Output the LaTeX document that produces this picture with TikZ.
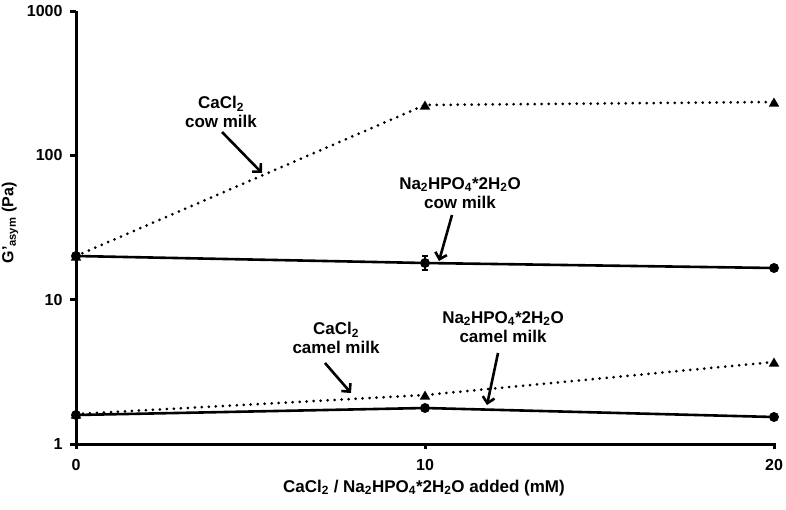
\documentclass[tikz,border=0pt]{standalone}
\usepackage{fontspec}
\setmainfont{Liberation Sans}
\usetikzlibrary{arrows.meta,shapes.geometric}
\newcommand\sbx[1]{\textsubscript{#1}}
\begin{document}
\begin{tikzpicture}[x=1pt,y=-1pt,
  axisline/.style={line width=3pt},
  solidline/.style={line width=2.6pt},
  dotline/.style={line width=3pt, line cap=round, dash pattern=on 0pt off 7pt},
  ptc/.style={circle, fill=black, inner sep=0pt, minimum size=10pt},
  ptt/.style={regular polygon, regular polygon sides=3, fill=black, inner sep=0pt, minimum size=12pt},
  ticklab/.style={font=\bfseries\fontsize{16}{18}\selectfont},
  titlelab/.style={font=\bfseries\fontsize{17}{19}\selectfont},
  lab/.style={font=\bfseries\fontsize{17}{19}\selectfont, align=center},
  arr/.style={line width=2.6pt, -{Straight Barb[length=6pt,width=12pt]}}]
\useasboundingbox (0,0) rectangle (786,509);
% axes
\coordinate (ytop) at (76,11);
\coordinate (org) at (76,444);
\coordinate (xend) at (774,444);
\draw[axisline] (76,11) -- (76,449);
\draw[axisline] (org) -- (xend) -- (774,449);
\draw[axisline] (425,444) -- (425,449);
\foreach \yy/\lab in {11/1000,155.4/100,299.7/10,444/1}{
  \draw[axisline] (70,\yy) -- (76,\yy);
  \node[ticklab, anchor=east] (yl\lab) at (66,\yy) {\lab};
}
\foreach \xx/\lab in {76/0,425/10,774/20}{
  \node[ticklab] (xl\lab) at (\xx,465) {\lab};
}
\node[titlelab] (xtitle) at (424,488) {CaCl\sbx{2} / Na\sbx{2}HPO\sbx{4}*2H\sbx{2}O added (mM)};
\node[ticklab, rotate=90] (ytitle) at (10,223) {G'\sbx{asym} (Pa)};
% data
\coordinate (a0) at (76,256); \coordinate (a1) at (425,105); \coordinate (a2) at (774,102);
\coordinate (b0) at (76,256); \coordinate (b1) at (425,263); \coordinate (b2) at (774,268);
\coordinate (c0) at (76,414); \coordinate (c1) at (425,395); \coordinate (c2) at (774,362);
\coordinate (d0) at (76,415); \coordinate (d1) at (425,408); \coordinate (d2) at (774,417);
\draw[dotline] (a0) -- (a1) -- (a2);
\draw[solidline] (b0) -- (b1) -- (b2);
\draw[dotline] (c0) -- (c1) -- (c2);
\draw[solidline] (d0) -- (d1) -- (d2);
\draw[line width=1.5pt] (425,256) -- (425,270) (422,256) -- (428,256) (422,270) -- (428,270);
\foreach \p in {a0,a1,a2,c0,c1,c2}{ \node[ptt] at ([yshift=-1.5pt]\p) {}; }
\foreach \p in {b0,b1,b2,d0,d1,d2}{ \node[ptc] at (\p) {}; }
% labels and arrows
\node[lab] (L1) at (221,112) {CaCl\sbx{2}\\cow milk};
\node[lab] (L2) at (460,193) {Na\sbx{2}HPO\sbx{4}*2H\sbx{2}O\\cow milk};
\node[lab] (L3) at (336,338) {CaCl\sbx{2}\\camel milk};
\node[lab] (L4) at (503,327) {Na\sbx{2}HPO\sbx{4}*2H\sbx{2}O\\camel milk};
\coordinate (t1) at (262,173);
\coordinate (t2) at (439,261);
\coordinate (t3) at (351,393);
\coordinate (t4) at (487,405);
\draw[arr] (222,132) -- (t1);
\draw[arr] (452,215) -- (t2);
\draw[arr] (325,363) -- (t3);
\draw[arr] (498,353) -- (t4);
\end{tikzpicture}
\end{document}
